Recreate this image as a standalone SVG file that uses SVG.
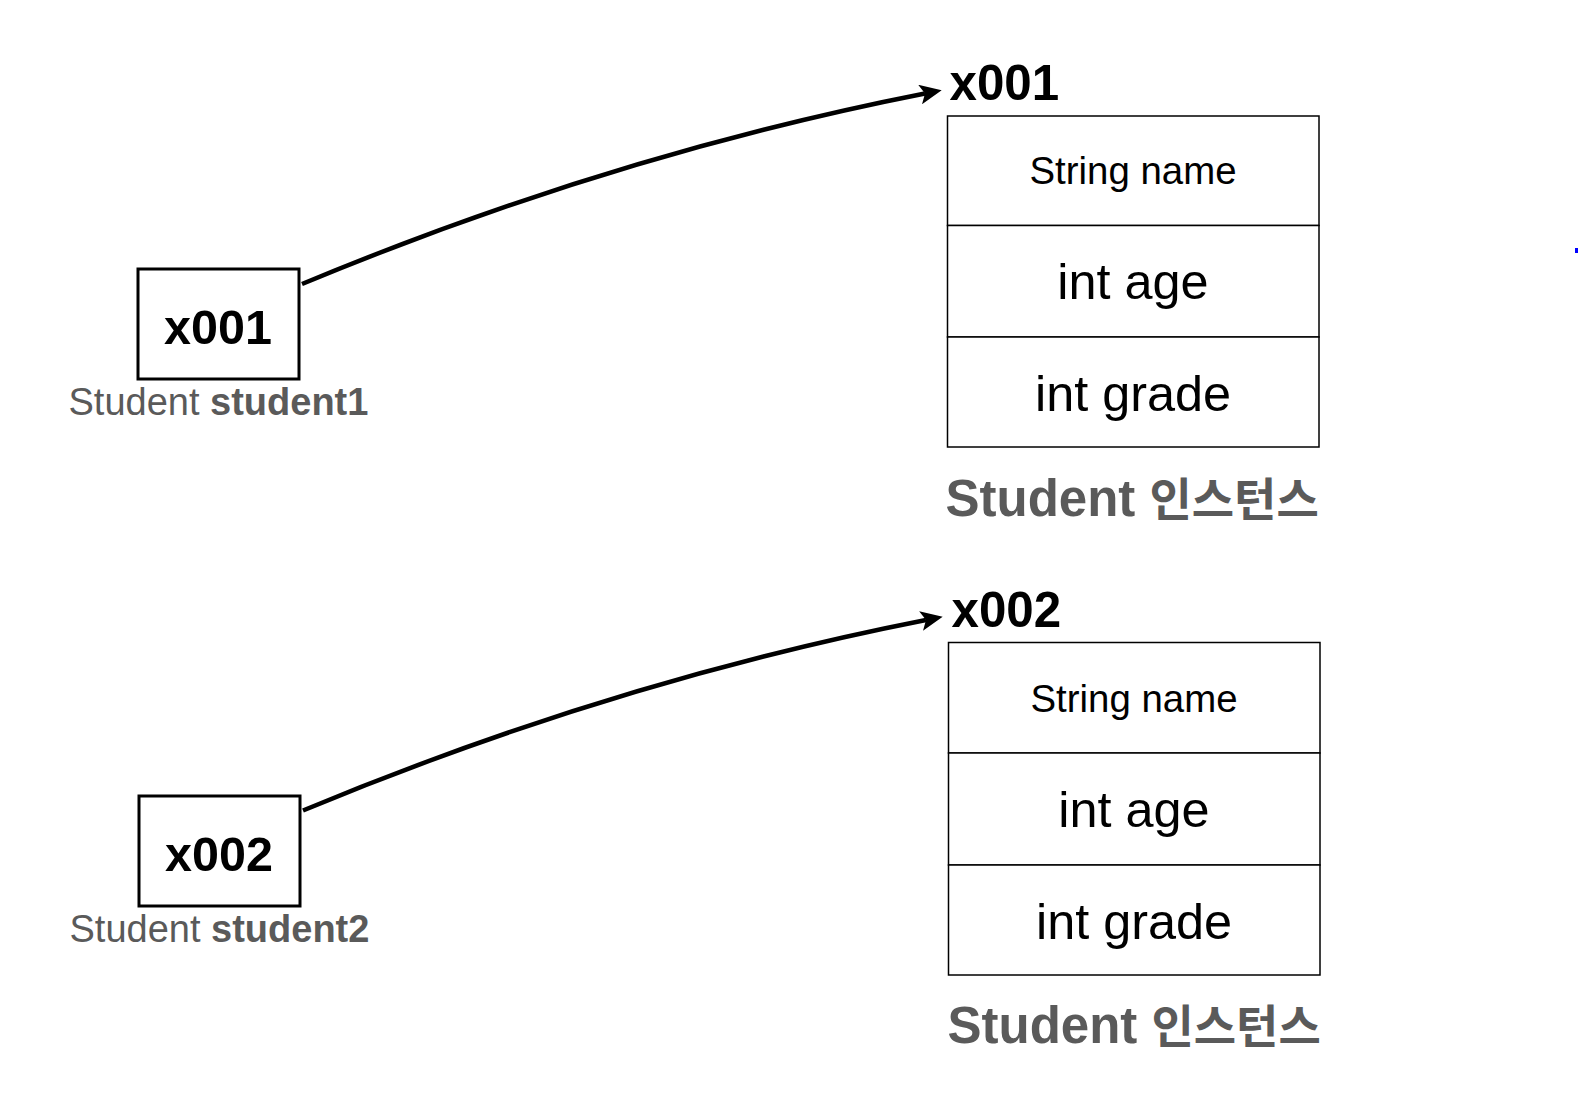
<svg xmlns="http://www.w3.org/2000/svg" width="1579" height="1120" viewBox="0 0 1579 1120">
<defs>
<style>
.box{fill:#fff;stroke:#000;stroke-width:3}
.cell{fill:#fff;stroke:#000;stroke-width:1.5}
.b{font-family:"Liberation Sans",Arial,sans-serif;font-weight:bold;fill:#000}
.f{font-family:"Liberation Sans",Arial,sans-serif;fill:#000;text-anchor:middle}
.lab{font-family:"Liberation Sans",Arial,sans-serif;fill:#5a5a5a;font-size:38px}
.inst{font-family:"Liberation Sans","Noto Sans CJK KR",sans-serif;font-weight:bold;fill:#5a5a5a;font-size:51px}
.ko{font-family:"Noto Sans CJK KR","Liberation Sans",sans-serif;font-size:46px}
.conn{fill:none;stroke:#000;stroke-width:4.5}
</style>
<marker id="arr" viewBox="0 0 22 20" refX="5" refY="10" markerWidth="22" markerHeight="20" orient="auto" markerUnits="userSpaceOnUse">
<path d="M0,0 L22,10 L0,20 L5,10 Z" fill="#000"/>
</marker>
</defs>
<rect width="1579" height="1120" fill="#fff"/>
<g id="connectors">
<path class="conn" d="M302,284 Q612,155 925,93.5" marker-end="url(#arr)"/>
<path class="conn" d="M303,810.5 Q613,681.5 926,620" marker-end="url(#arr)"/>
</g>
<g id="ref1">
<rect class="box" x="138" y="269" width="161" height="110"/>
<text class="b" x="218" y="344" font-size="48.5" text-anchor="middle">x001</text>
<text class="lab" x="68.5" y="415">Student <tspan font-weight="bold">student1</tspan></text>
</g>
<g id="ref2">
<rect class="box" x="139" y="796" width="161" height="110"/>
<text class="b" x="219" y="871" font-size="48.5" text-anchor="middle">x002</text>
<text class="lab" x="69.5" y="942">Student <tspan font-weight="bold">student2</tspan></text>
</g>
<g id="inst1">
<text class="b" x="949.5" y="100" font-size="49.3">x001</text>
<rect class="cell" x="947.5" y="116" width="371.5" height="109.5"/>
<rect class="cell" x="947.5" y="225.5" width="371.5" height="111.5"/>
<rect class="cell" x="947.5" y="337" width="371.5" height="110"/>
<text class="f" x="1133" y="184" font-size="38.4">String name</text>
<text class="f" x="1133" y="299" font-size="50.4">int age</text>
<text class="f" x="1133" y="411" font-size="50.4">int grade</text>
<text class="inst" x="945.5" y="515.5">Student <tspan class="ko">인스턴스</tspan></text>
</g>
<g id="inst2">
<text class="b" x="951.5" y="627" font-size="49.3">x002</text>
<rect class="cell" x="948.5" y="642.5" width="371.5" height="110.5"/>
<rect class="cell" x="948.5" y="753" width="371.5" height="112"/>
<rect class="cell" x="948.5" y="865" width="371.5" height="110"/>
<text class="f" x="1134" y="712" font-size="38.4">String name</text>
<text class="f" x="1134" y="826.5" font-size="50.4">int age</text>
<text class="f" x="1134" y="938.5" font-size="50.4">int grade</text>
<text class="inst" x="947.5" y="1043">Student <tspan class="ko">인스턴스</tspan></text>
</g>
<rect x="1575" y="248" width="3" height="5" fill="#0000ff"/>
</svg>
